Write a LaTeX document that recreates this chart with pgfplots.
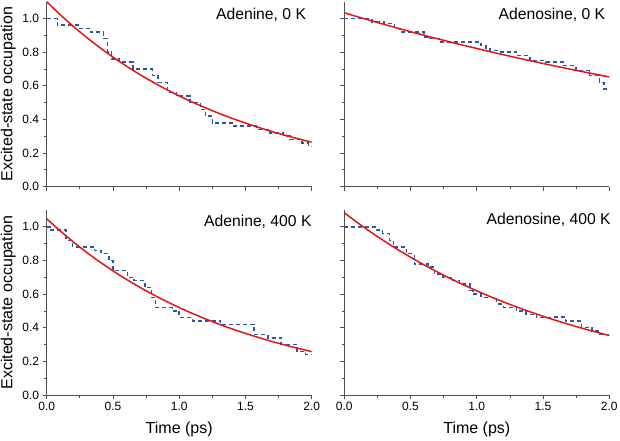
\documentclass[border=0pt]{standalone}
\usepackage{fontspec}
\setmainfont{Liberation Sans}
\usepackage{pgfplots}
\pgfplotsset{compat=1.18}
\definecolor{dblue}{RGB}{40,90,160}
\definecolor{fitred}{RGB}{232,20,20}
\definecolor{axgray}{RGB}{80,80,80}
\pgfplotsset{
  panel/.style={
    scale only axis, width=265pt, height=185pt,
    xmin=0, xmax=2, ymin=0, ymax=1.1,
    axis lines*=left,
    axis line style={axgray, line width=0.8pt},
    xtick={0,0.5,1,1.5,2}, minor x tick num=1,
    ytick={0,0.2,0.4,0.6,0.8,1.0}, minor y tick num=1,
    tick align=outside, major tick length=4pt, minor tick length=2.5pt,
    every tick/.style={axgray, line width=0.8pt},
    ticklabel style={font=\fontsize{12}{14}\selectfont, text=black},
    xticklabel style={/pgf/number format/.cd, fixed, fixed zerofill, precision=1},
    yticklabel style={/pgf/number format/.cd, fixed, fixed zerofill, precision=1},
    /pgf/number format/assume math mode=true,
    every axis y label/.style={at={(rel axis cs:0,0.5)}, xshift=-38.4pt, rotate=90, anchor=center, font=\fontsize{16}{19}\selectfont},
    every axis x label/.style={at={(rel axis cs:0.5,0)}, yshift=-34pt, anchor=center, font=\fontsize{16}{19}\selectfont},
  },
  sim/.style={dblue, line width=1.5pt, dash pattern=on 4pt off 3pt, const plot mark left},
  fit/.style={fitred, line width=1.5pt, smooth},
}
\newcommand{\paneltitle}[3]{\node[anchor=base east, inner sep=0pt, font=\fontsize{15.7}{19}\selectfont] at ([xshift=#2, yshift=#3]rel axis cs:1,1) {#1};}
\begin{document}
\begin{tikzpicture}
\path[use as bounding box] (0,0) rectangle (620pt,440pt);
% ---------- Adenine, 0 K ----------
\begin{axis}[panel, at={(46.7pt,253.3pt)}, xticklabels={}, ylabel={Excited-state occupation}]
\addplot[sim] coordinates {(0,1.00)(0.08,0.96)(0.24,0.94)(0.33,0.92)(0.43,0.88)(0.46,0.80)(0.49,0.76)(0.55,0.74)(0.65,0.70)(0.80,0.66)(0.84,0.62)(0.91,0.56)(0.98,0.54)(1.08,0.50)(1.16,0.46)(1.20,0.42)(1.25,0.38)(1.41,0.36)(1.585,0.34)(1.685,0.32)(1.786,0.30)(1.836,0.28)(1.925,0.26)(1.975,0.24)(2.0,0.24)};
\addplot[fit] coordinates {(0,1.100)(0.1,1.0244)(0.2,0.9540)(0.3,0.8885)(0.4,0.8275)(0.5,0.7706)(0.6,0.7177)(0.7,0.6684)(0.8,0.6225)(0.9,0.5797)(1.0,0.5399)(1.1,0.5028)(1.2,0.4683)(1.3,0.4361)(1.4,0.4061)(1.5,0.3782)(1.6,0.3522)(1.7,0.3280)(1.8,0.3055)(1.9,0.2845)(2.0,0.2650)};
\paneltitle{Adenine, 0 K}{-5.5pt}{-18pt}
\end{axis}
% ---------- Adenosine, 0 K ----------
\begin{axis}[panel, at={(344.3pt,253.3pt)}, xticklabels={}, yticklabels={}]
\addplot[sim] coordinates {(0,1.00)(0.21,0.98)(0.30,0.97)(0.38,0.94)(0.42,0.92)(0.60,0.89)(0.63,0.88)(0.72,0.86)(1.03,0.84)(1.07,0.82)(1.10,0.81)(1.17,0.80)(1.30,0.78)(1.40,0.75)(1.52,0.74)(1.65,0.72)(1.75,0.69)(1.85,0.66)(1.925,0.62)(1.96,0.58)(2.0,0.58)};
\addplot[fit] coordinates {(0,1.0340)(0.1,1.0105)(0.2,0.9876)(0.3,0.9651)(0.4,0.9432)(0.5,0.9218)(0.6,0.9008)(0.7,0.8804)(0.8,0.8604)(0.9,0.8408)(1.0,0.8217)(1.1,0.8031)(1.2,0.7848)(1.3,0.7670)(1.4,0.7495)(1.5,0.7325)(1.6,0.7159)(1.7,0.6996)(1.8,0.6837)(1.9,0.6682)(2.0,0.6530)};
\paneltitle{Adenosine, 0 K}{-4pt}{-17.5pt}
\end{axis}
% ---------- Adenine, 400 K ----------
\begin{axis}[panel, at={(46.7pt,45pt)}, xlabel={Time (ps)}, ylabel={Excited-state occupation}]
\addplot[sim] coordinates {(0,1.00)(0.033,0.98)(0.146,0.92)(0.196,0.88)(0.36,0.86)(0.41,0.84)(0.47,0.80)(0.50,0.74)(0.61,0.70)(0.66,0.68)(0.74,0.64)(0.79,0.58)(0.82,0.52)(0.95,0.50)(1.00,0.46)(1.10,0.44)(1.31,0.42)(1.565,0.36)(1.67,0.34)(1.77,0.30)(1.89,0.26)(1.955,0.24)(2.0,0.24)};
\addplot[fit] coordinates {(0,1.0480)(0.1,0.9771)(0.2,0.9110)(0.3,0.8493)(0.4,0.7918)(0.5,0.7382)(0.6,0.6883)(0.7,0.6417)(0.8,0.5983)(0.9,0.5578)(1.0,0.5200)(1.1,0.4848)(1.2,0.4520)(1.3,0.4214)(1.4,0.3929)(1.5,0.3663)(1.6,0.3415)(1.7,0.3184)(1.8,0.2969)(1.9,0.2768)(2.0,0.2580)};
\paneltitle{Adenine, 400 K}{0pt}{-16pt}
\end{axis}
% ---------- Adenosine, 400 K ----------
\begin{axis}[panel, at={(344.3pt,45pt)}, xlabel={Time (ps)}, yticklabels={}]
\addplot[sim] coordinates {(0,1.00)(0.243,0.98)(0.29,0.96)(0.34,0.92)(0.37,0.88)(0.47,0.84)(0.53,0.78)(0.63,0.76)(0.68,0.72)(0.745,0.70)(0.82,0.68)(0.87,0.66)(0.95,0.62)(0.97,0.60)(1.03,0.58)(1.15,0.54)(1.20,0.52)(1.30,0.50)(1.37,0.48)(1.45,0.46)(1.57,0.465)(1.67,0.44)(1.79,0.40)(1.87,0.38)(1.925,0.36)(2.0,0.36)};
\addplot[fit] coordinates {(0,1.0835)(0.1,1.0246)(0.2,0.9688)(0.3,0.9161)(0.4,0.8663)(0.5,0.8192)(0.6,0.7746)(0.7,0.7325)(0.8,0.6926)(0.9,0.6550)(1.0,0.6193)(1.1,0.5856)(1.2,0.5538)(1.3,0.5237)(1.4,0.4952)(1.5,0.4682)(1.6,0.4428)(1.7,0.4187)(1.8,0.3959)(1.9,0.3744)(2.0,0.3540)};
\paneltitle{Adenosine, 400 K}{1.5pt}{-14.5pt}
\end{axis}
\end{tikzpicture}
\end{document}
